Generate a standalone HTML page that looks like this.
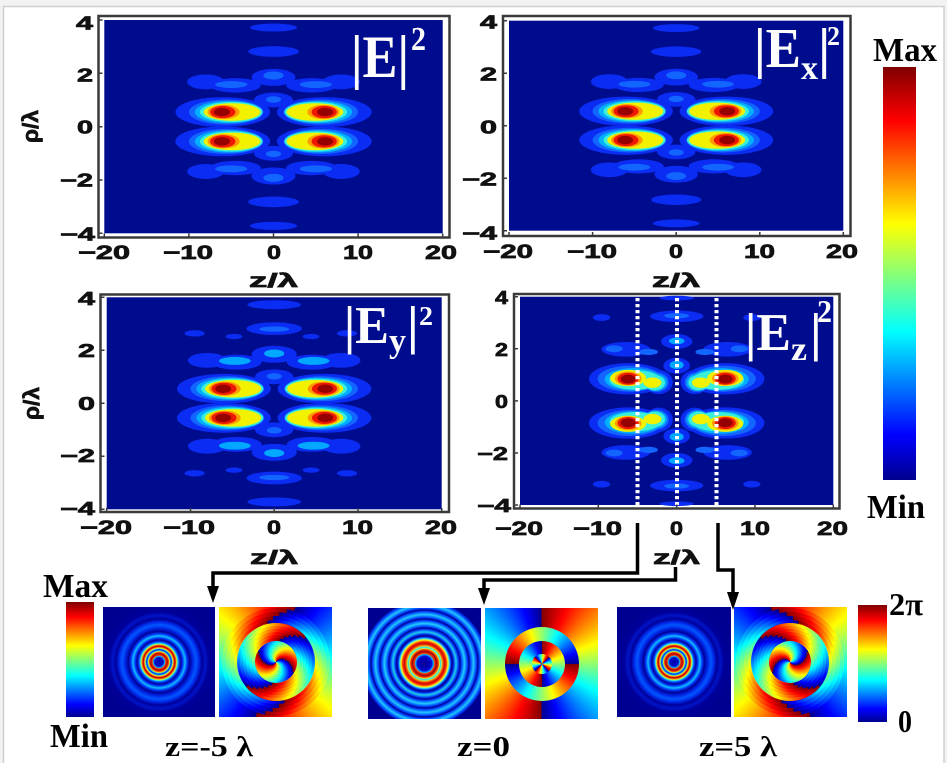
<!DOCTYPE html>
<html><head><meta charset="utf-8">
<style>
html,body{margin:0;padding:0;background:#f2f2f2;}
#w{position:relative;width:947px;height:763px;overflow:hidden;background:#f2f2f2;}
svg{position:absolute;left:0;top:0;}
.pi{position:absolute;overflow:hidden;}
.c{position:absolute;border-radius:50%;left:50%;top:50%;transform:translate(-50%,-50%);}
.f{position:absolute;left:0;top:0;width:100%;height:100%;}
.s2{background:repeating-conic-gradient(from var(--a),#00008f 0deg,#0000ff 18deg,#00ffff 63deg,#ffff00 110deg,#ff0000 155deg,#800000 180deg);}
.s2r{background:repeating-conic-gradient(from var(--a),#800000 0deg,#ff0000 25deg,#ffff00 70deg,#00ffff 117deg,#0000ff 162deg,#00008f 180deg);}
.s4{background:repeating-conic-gradient(from var(--a),#00008f 0deg,#0000ff 9deg,#00ffff 32deg,#ffff00 55deg,#ff0000 78deg,#800000 90deg);}
.jet{background:linear-gradient(to top,#00008f 0%,#0000ff 11%,#00ffff 36%,#ffff00 62%,#ff0000 87%,#800000 100%);}
.i1{background:radial-gradient(circle at 50% 50%,#0000a8 0px,#0010d0 4.5px,#00c0ff 5.7px,#ff4000 6.7px,#a80000 8.2px,#ff4000 9.6px,#e8f000 10.4px,#20c8ff 11.2px,#0018d8 12.2px,#20c8ff 13.2px,#f0f000 14px,#ff3000 15px,#b00000 15.8px,#ff5000 16.8px,#c0ff40 17.8px,#10d0ff 18.8px,#0048ff 20px,#0000a0 22px,#0040ff 24px,#10c0ff 26px,#0040ff 28px,#00009a 30.5px,#0028e8 34px,#0058ff 37px,#0028e8 40px,#00009a 43px,#0014c8 46.5px,#00009a 50px,#000090 60px);}
.i2{background:radial-gradient(circle at 50% 50%,#000090 0px,#0000b8 5px,#0010e0 7.5px,#00c0ff 9px,#ff4000 10px,#a00000 12px,#ff4000 14px,#e0ff20 15px,#20d0ff 16px,#a0ff60 17px,#ff8000 18px,#d00000 20px,#ff4000 22px,#ffff20 23.5px,#20d0ff 25px,#0020e0 26.5px,#000090 28px,#0040ff 29.5px,#20d0e8 31.5px,#0040ff 34px,#000090 35.5px,#0040ff 37px,#20d0ff 40px,#0040ff 43px,#000090 44.5px,#0040ff 46px,#20c8ff 49px,#0040ff 52px,#000090 53.5px,#0040ff 55px,#20c8ff 58px,#0040ff 61px,#000090 63px);}
.t{font-family:"Liberation Sans",Arial,sans-serif;font-weight:bold;font-size:19px;fill:#111;stroke:#111;stroke-width:0.7px;}
.y{font-size:18px;}
.s{font-family:"Liberation Serif","Times New Roman",serif;font-weight:bold;}
.wt{fill:#fdfdfd;}
</style></head><body><div id="w">
<svg width="947" height="763" xmlns="http://www.w3.org/2000/svg">
<defs>
<linearGradient id="jetg" x1="0" y1="1" x2="0" y2="0">
<stop offset="0" stop-color="#00008f"/><stop offset="0.11" stop-color="#0000ff"/><stop offset="0.36" stop-color="#00ffff"/><stop offset="0.62" stop-color="#ffff00"/><stop offset="0.87" stop-color="#ff0000"/><stop offset="1" stop-color="#800000"/>
</linearGradient>
<g id="lobeE">
<ellipse cx="-6" cy="-0.55" rx="5.6" ry="0.56" fill="#0b2cf2"/>
<ellipse cx="-5.6" cy="-0.55" rx="4.4" ry="0.47" fill="#1266ff"/>
<ellipse cx="-5.3" cy="-0.55" rx="4.0" ry="0.42" fill="#00b0ff"/>
<ellipse cx="-5.0" cy="-0.55" rx="3.7" ry="0.38" fill="#3cf0d8"/>
<ellipse cx="-4.9" cy="-0.55" rx="3.35" ry="0.33" fill="#f2f200"/>
<ellipse cx="-5.9" cy="-0.55" rx="1.9" ry="0.27" fill="#ff9a00"/>
<ellipse cx="-6.0" cy="-0.55" rx="1.5" ry="0.23" fill="#ee1800"/>
<ellipse cx="-6.1" cy="-0.55" rx="0.95" ry="0.16" fill="#960000"/>
</g>
<g id="halfE">
<ellipse cx="-8" cy="-1.68" rx="2.2" ry="0.28" fill="#0b2cf2"/>
<ellipse cx="-4.5" cy="-1.55" rx="3.0" ry="0.27" fill="#0b2cf2"/>
<ellipse cx="0" cy="-1.85" rx="2.6" ry="0.32" fill="#0b2cf2"/>
<ellipse cx="4.5" cy="-1.55" rx="3.0" ry="0.27" fill="#0b2cf2"/>
<ellipse cx="8" cy="-1.68" rx="2.2" ry="0.28" fill="#0b2cf2"/>
<ellipse cx="-5" cy="-1.58" rx="1.9" ry="0.13" fill="#1266ff"/>
<ellipse cx="0" cy="-1.92" rx="1.2" ry="0.15" fill="#1266ff"/>
<ellipse cx="5" cy="-1.58" rx="1.9" ry="0.13" fill="#1266ff"/>
<ellipse cx="0" cy="-2.82" rx="3.0" ry="0.2" fill="#0b2cf2"/>
<ellipse cx="0" cy="-3.72" rx="2.8" ry="0.15" fill="#0b2cf2"/>
<ellipse cx="0" cy="-1.0" rx="2.3" ry="0.28" fill="#0b2cf2"/>
<ellipse cx="0" cy="-1.02" rx="0.9" ry="0.12" fill="#1266ff"/>
<use href="#lobeE"/>
<use href="#lobeE" transform="scale(-1,1)"/>
</g>
<g id="fieldE"><use href="#halfE"/><use href="#halfE" transform="scale(1,-1)"/></g>
<g id="halfY">
<ellipse cx="-8" cy="-1.62" rx="2.3" ry="0.28" fill="#0b2cf2"/>
<ellipse cx="-4.5" cy="-1.55" rx="3.0" ry="0.28" fill="#0b2cf2"/>
<ellipse cx="0" cy="-1.85" rx="2.7" ry="0.32" fill="#0b2cf2"/>
<ellipse cx="4.5" cy="-1.55" rx="3.0" ry="0.28" fill="#0b2cf2"/>
<ellipse cx="8" cy="-1.62" rx="2.3" ry="0.28" fill="#0b2cf2"/>
<ellipse cx="-4.7" cy="-1.6" rx="1.9" ry="0.15" fill="#00a8ff"/>
<ellipse cx="0" cy="-1.88" rx="1.2" ry="0.15" fill="#00a8ff"/>
<ellipse cx="4.7" cy="-1.6" rx="1.9" ry="0.15" fill="#00a8ff"/>
<ellipse cx="-9.5" cy="-2.64" rx="1.2" ry="0.12" fill="#0b2cf2"/>
<ellipse cx="-4.8" cy="-2.52" rx="1.0" ry="0.1" fill="#0b2cf2"/>
<ellipse cx="4.4" cy="-2.52" rx="1.0" ry="0.1" fill="#0b2cf2"/>
<ellipse cx="8.7" cy="-2.64" rx="1.2" ry="0.12" fill="#0b2cf2"/>
<ellipse cx="0" cy="-2.82" rx="3.3" ry="0.24" fill="#0b2cf2"/>
<ellipse cx="0" cy="-2.8" rx="1.8" ry="0.1" fill="#1266ff"/>
<ellipse cx="0" cy="-3.72" rx="3.2" ry="0.17" fill="#0b2cf2"/>
<ellipse cx="0" cy="-1.0" rx="2.3" ry="0.28" fill="#0b2cf2"/>
<ellipse cx="0" cy="-1.02" rx="0.9" ry="0.12" fill="#1266ff"/>
<use href="#lobeE"/>
<use href="#lobeE" transform="scale(-1,1)"/>
</g>
<g id="fieldY"><use href="#halfY"/><use href="#halfY" transform="scale(1,-1)"/></g>
<g id="lobeZ">
<ellipse cx="-6.2" cy="-0.85" rx="5.0" ry="0.6" fill="#0b2cf2"/>
<ellipse cx="-2.3" cy="-0.72" rx="1.8" ry="0.46" fill="#0b2cf2"/>
<ellipse cx="-6.0" cy="-0.85" rx="4.1" ry="0.5" fill="#1266ff"/>
<ellipse cx="-2.6" cy="-0.72" rx="1.6" ry="0.38" fill="#1266ff"/>
<ellipse cx="-5.6" cy="-0.83" rx="3.6" ry="0.43" fill="#00b0ff"/>
<ellipse cx="-2.7" cy="-0.71" rx="1.45" ry="0.33" fill="#00b0ff"/>
<ellipse cx="-5.3" cy="-0.8" rx="3.3" ry="0.37" fill="#3cf0d8"/>
<ellipse cx="-2.8" cy="-0.7" rx="1.3" ry="0.29" fill="#3cf0d8"/>
<ellipse cx="-6.2" cy="-0.88" rx="2.3" ry="0.31" fill="#f2f200"/>
<ellipse cx="-3.1" cy="-0.7" rx="1.15" ry="0.2" fill="#f2f200"/>
<ellipse cx="-6.2" cy="-0.86" rx="1.7" ry="0.27" fill="#ff9a00"/>
<ellipse cx="-6.2" cy="-0.85" rx="1.35" ry="0.23" fill="#ee1800"/>
<ellipse cx="-6.2" cy="-0.84" rx="0.95" ry="0.17" fill="#960000"/>
</g>
<g id="halfZ">
<ellipse cx="-6.5" cy="-1.98" rx="3.1" ry="0.28" fill="#0b2cf2"/>
<ellipse cx="6.5" cy="-1.98" rx="3.1" ry="0.28" fill="#0b2cf2"/>
<ellipse cx="-8.0" cy="-2.0" rx="1.1" ry="0.13" fill="#1266ff"/>
<ellipse cx="8.0" cy="-2.0" rx="1.1" ry="0.13" fill="#1266ff"/>
<ellipse cx="-3.6" cy="-1.88" rx="1.2" ry="0.12" fill="#1266ff"/>
<ellipse cx="3.6" cy="-1.88" rx="1.2" ry="0.12" fill="#1266ff"/>
<ellipse cx="0" cy="-2.28" rx="2.0" ry="0.28" fill="#0b2cf2"/>
<ellipse cx="0" cy="-2.3" rx="1.0" ry="0.13" fill="#00a8ff"/>
<ellipse cx="0" cy="-3.25" rx="3.4" ry="0.22" fill="#0b2cf2"/>
<ellipse cx="0" cy="-3.27" rx="1.6" ry="0.1" fill="#1266ff"/>
<ellipse cx="0" cy="-3.95" rx="2.2" ry="0.09" fill="#0b2cf2"/>
<ellipse cx="-9.6" cy="-3.2" rx="1.1" ry="0.13" fill="#0b2cf2"/>
<ellipse cx="9.6" cy="-3.2" rx="1.1" ry="0.13" fill="#0b2cf2"/>
<use href="#lobeZ"/>
<use href="#lobeZ" transform="scale(-1,1)"/>
<ellipse cx="0" cy="-1.35" rx="1.7" ry="0.3" fill="#0b2cf2"/>
<ellipse cx="0" cy="-1.38" rx="0.9" ry="0.16" fill="#00a8ff"/>
</g>
<g id="fieldZ"><use href="#halfZ"/><use href="#halfZ" transform="scale(1,-1)"/></g>
</defs>

<rect x="3.5" y="6.5" width="940.5" height="770" fill="#fff" stroke="#cfcfcf" stroke-width="1.5"/>

<!-- Top-left |E|^2 -->
<rect x="98.5" y="16" width="351" height="221.5" fill="#fff" stroke="#3a3a3a" stroke-width="2.5"/>
<rect x="104.3" y="20" width="338.4" height="213.3" fill="#000c8e"/>
<g transform="translate(273.5,126.7) scale(8.46,26.66)"><use href="#fieldE"/></g>
<path d="M104.3 237.5v-4M188.9 237.5v-4M273.5 237.5v-4M358.1 237.5v-4M442.7 237.5v-4M98.5 20h4M98.5 73.3h4M98.5 126.7h4M98.5 180h4M98.5 233.3h4" stroke="#3a3a3a" stroke-width="1.5"/>

<!-- Top-right |Ex|^2 -->
<rect x="503" y="16" width="347.5" height="220" fill="#fff" stroke="#3a3a3a" stroke-width="2.5"/>
<rect x="509" y="20.7" width="334.3" height="210" fill="#000c8e"/>
<g transform="translate(676.2,125.7) scale(8.36,26.25)"><use href="#fieldE"/></g>
<path d="M509 236v-4M592.6 236v-4M676.2 236v-4M759.8 236v-4M843.3 236v-4M503 20.7h4M503 73.2h4M503 125.7h4M503 178.2h4M503 230.7h4" stroke="#3a3a3a" stroke-width="1.5"/>

<!-- Bottom-left |Ey|^2 -->
<rect x="100.5" y="294.5" width="348.5" height="217.5" fill="#fff" stroke="#3a3a3a" stroke-width="2.5"/>
<rect x="106.7" y="297.3" width="335" height="212" fill="#000c8e"/>
<g transform="translate(274.2,403.3) scale(8.375,26.5)"><use href="#fieldY"/></g>
<path d="M106.7 512v-4M190.5 512v-4M274.2 512v-4M358 512v-4M441.7 512v-4M100.5 297.3h4M100.5 350.3h4M100.5 403.3h4M100.5 456.3h4M100.5 509.3h4" stroke="#3a3a3a" stroke-width="1.5"/>

<!-- Bottom-right |Ez|^2 -->
<rect x="514" y="294" width="325.5" height="214.5" fill="#fff" stroke="#3a3a3a" stroke-width="2.5"/>
<rect x="520" y="296.7" width="313.3" height="208.3" fill="#000c8e"/>
<g transform="translate(676.7,400.9) scale(7.83,26.04)"><use href="#fieldZ"/></g>
<g stroke="#fff" stroke-width="4" stroke-dasharray="3.3 2.7">
<line x1="637.5" y1="298" x2="637.5" y2="505"/>
<line x1="677" y1="298" x2="677" y2="505"/>
<line x1="716.5" y1="298" x2="716.5" y2="505"/>
</g>
<path d="M520 508.5v-4M598.3 508.5v-4M676.7 508.5v-4M755 508.5v-4M833.3 508.5v-4M514 296.7h4M514 348.8h4M514 400.9h4M514 453h4M514 505h4" stroke="#3a3a3a" stroke-width="1.5"/>

<!-- Big colorbar -->
<rect x="883" y="67" width="33" height="413" fill="url(#jetg)"/>
<text class="s" x="873" y="61" font-size="34" textLength="64" lengthAdjust="spacingAndGlyphs">Max</text>
<text class="s" x="867" y="518" font-size="34" textLength="58" lengthAdjust="spacingAndGlyphs">Min</text>

<!-- Panel titles -->
<text class="s wt" x="351" y="77" font-size="60" textLength="58" lengthAdjust="spacingAndGlyphs">|E|</text>
<text class="s wt" x="411" y="50" font-size="34" textLength="15" lengthAdjust="spacingAndGlyphs">2</text>

<text class="s wt" x="754" y="67" font-size="56" textLength="47" lengthAdjust="spacingAndGlyphs">|E</text>
<text class="s wt" x="801" y="79" font-size="34" textLength="17" lengthAdjust="spacingAndGlyphs">x</text>
<text class="s wt" x="818" y="67" font-size="56">|</text>
<text class="s wt" x="827" y="45" font-size="27" textLength="13" lengthAdjust="spacingAndGlyphs">2</text>

<text class="s wt" x="344" y="343" font-size="53" textLength="45" lengthAdjust="spacingAndGlyphs">|E</text>
<text class="s wt" x="389" y="352" font-size="34" textLength="17" lengthAdjust="spacingAndGlyphs">y</text>
<text class="s wt" x="407" y="343" font-size="53">|</text>
<text class="s wt" x="419" y="325" font-size="27" textLength="14" lengthAdjust="spacingAndGlyphs">2</text>

<text class="s wt" x="745" y="350" font-size="53" textLength="46" lengthAdjust="spacingAndGlyphs">|E</text>
<text class="s wt" x="791" y="360" font-size="34" textLength="16" lengthAdjust="spacingAndGlyphs">z</text>
<text class="s wt" x="810" y="350" font-size="53">|</text>
<text class="s wt" x="817" y="322" font-size="32" textLength="15" lengthAdjust="spacingAndGlyphs">2</text>

<g class="t">
<!-- TL -->
<text x="78" y="259" textLength="52" lengthAdjust="spacingAndGlyphs">−20</text>
<text x="163" y="259" textLength="50" lengthAdjust="spacingAndGlyphs">−10</text>
<text x="267" y="259" textLength="14" lengthAdjust="spacingAndGlyphs">0</text>
<text x="343" y="259" textLength="30" lengthAdjust="spacingAndGlyphs">10</text>
<text x="425" y="259" textLength="32" lengthAdjust="spacingAndGlyphs">20</text>
<text class="y" x="76" y="29.5" textLength="17" lengthAdjust="spacingAndGlyphs">4</text>
<text class="y" x="77" y="81.5" textLength="16" lengthAdjust="spacingAndGlyphs">2</text>
<text class="y" x="77" y="133.5" textLength="16" lengthAdjust="spacingAndGlyphs">0</text>
<text class="y" x="60" y="186.5" textLength="33" lengthAdjust="spacingAndGlyphs">−2</text>
<text class="y" x="60" y="240.5" textLength="35" lengthAdjust="spacingAndGlyphs">−4</text>
<text x="249" y="287" textLength="49" lengthAdjust="spacingAndGlyphs">z/λ</text>
<text transform="translate(38,143) rotate(-90)" x="0" y="0" font-size="22" textLength="33" lengthAdjust="spacingAndGlyphs">ρ/λ</text>

<!-- TR -->
<text x="483" y="258" textLength="50" lengthAdjust="spacingAndGlyphs">−20</text>
<text x="567" y="258" textLength="50" lengthAdjust="spacingAndGlyphs">−10</text>
<text x="669" y="258" textLength="14" lengthAdjust="spacingAndGlyphs">0</text>
<text x="744" y="258" textLength="31" lengthAdjust="spacingAndGlyphs">10</text>
<text x="826" y="258" textLength="32" lengthAdjust="spacingAndGlyphs">20</text>
<text class="y" x="480" y="28.5" textLength="17" lengthAdjust="spacingAndGlyphs">4</text>
<text class="y" x="480" y="80.5" textLength="17" lengthAdjust="spacingAndGlyphs">2</text>
<text class="y" x="480" y="133.5" textLength="17" lengthAdjust="spacingAndGlyphs">0</text>
<text class="y" x="462" y="185.5" textLength="35" lengthAdjust="spacingAndGlyphs">−2</text>
<text class="y" x="462" y="239.5" textLength="35" lengthAdjust="spacingAndGlyphs">−4</text>
<text x="652" y="287" textLength="48" lengthAdjust="spacingAndGlyphs">z/λ</text>

<!-- BL -->
<text x="80" y="534" textLength="52" lengthAdjust="spacingAndGlyphs">−20</text>
<text x="163" y="534" textLength="52" lengthAdjust="spacingAndGlyphs">−10</text>
<text x="267" y="534" textLength="14" lengthAdjust="spacingAndGlyphs">0</text>
<text x="342" y="534" textLength="31" lengthAdjust="spacingAndGlyphs">10</text>
<text x="425" y="534" textLength="32" lengthAdjust="spacingAndGlyphs">20</text>
<text class="y" x="78" y="305" textLength="17" lengthAdjust="spacingAndGlyphs">4</text>
<text class="y" x="78" y="357" textLength="17" lengthAdjust="spacingAndGlyphs">2</text>
<text class="y" x="78" y="410" textLength="17" lengthAdjust="spacingAndGlyphs">0</text>
<text class="y" x="60" y="462" textLength="35" lengthAdjust="spacingAndGlyphs">−2</text>
<text class="y" x="60" y="515" textLength="35" lengthAdjust="spacingAndGlyphs">−4</text>
<text x="250" y="564" textLength="48" lengthAdjust="spacingAndGlyphs">z/λ</text>
<text transform="translate(39,420) rotate(-90)" x="0" y="0" font-size="22" textLength="33" lengthAdjust="spacingAndGlyphs">ρ/λ</text>

<!-- BR -->
<text x="495" y="535" textLength="48" lengthAdjust="spacingAndGlyphs">−20</text>
<text x="573" y="535" textLength="49" lengthAdjust="spacingAndGlyphs">−10</text>
<text x="670" y="535" textLength="13" lengthAdjust="spacingAndGlyphs">0</text>
<text x="740" y="535" textLength="30" lengthAdjust="spacingAndGlyphs">10</text>
<text x="817" y="535" textLength="31" lengthAdjust="spacingAndGlyphs">20</text>
<text class="y" x="495" y="304" textLength="13" lengthAdjust="spacingAndGlyphs">4</text>
<text class="y" x="495" y="356" textLength="13" lengthAdjust="spacingAndGlyphs">2</text>
<text class="y" x="495" y="408" textLength="13" lengthAdjust="spacingAndGlyphs">0</text>
<text class="y" x="477" y="460" textLength="31" lengthAdjust="spacingAndGlyphs">−2</text>
<text class="y" x="477" y="512" textLength="34" lengthAdjust="spacingAndGlyphs">−4</text>
<text x="653" y="564" textLength="47" lengthAdjust="spacingAndGlyphs">z/λ</text>
</g>

<!-- Bottom labels -->
<text class="s" x="43" y="597" font-size="34" textLength="65" lengthAdjust="spacingAndGlyphs">Max</text>
<text class="s" x="50" y="747" font-size="34" textLength="58" lengthAdjust="spacingAndGlyphs">Min</text>
<text class="s" x="889" y="615" font-size="32" textLength="34" lengthAdjust="spacingAndGlyphs">2π</text>
<text class="s" x="898" y="732" font-size="32" textLength="14" lengthAdjust="spacingAndGlyphs">0</text>
<text class="s" x="165" y="756" font-size="28" textLength="88" lengthAdjust="spacingAndGlyphs">z=-5 λ</text>
<text class="s" x="457" y="756" font-size="28" textLength="53" lengthAdjust="spacingAndGlyphs">z=0</text>
<text class="s" x="699" y="756" font-size="28" textLength="78" lengthAdjust="spacingAndGlyphs">z=5 λ</text>
</svg>

<!-- Bottom colorbars -->
<div class="pi jet" style="left:66px;top:602px;width:28px;height:115px"></div>
<div class="pi jet" style="left:858px;top:605px;width:29px;height:117px"></div>

<!-- Intensity images -->
<div class="pi i1" style="left:103px;top:607px;width:112px;height:110px"></div>
<div class="pi i2" style="left:368px;top:608px;width:113px;height:111px"></div>
<div class="pi i1" style="left:617px;top:607px;width:114px;height:110px"></div>

<!-- Phase z=-5 -->
<div class="pi" style="left:219px;top:607px;width:113px;height:110px">
<div class="f s2" style="--a:200deg"></div>
<div class="c s2" style="--a:192deg;width:108px;height:108px"></div>
<div class="c s2" style="--a:184deg;width:100px;height:100px"></div>
<div class="c s2" style="--a:176deg;width:92px;height:92px"></div>
<div class="c s2" style="--a:168deg;width:84px;height:84px"></div>
<div class="c s2" style="--a:50deg;width:78px;height:78px"></div>
<div class="c s2" style="--a:42deg;width:72px;height:72px"></div>
<div class="c s2" style="--a:34deg;width:66px;height:66px"></div>
<div class="c s2" style="--a:26deg;width:60px;height:60px"></div>
<div class="c s2" style="--a:18deg;width:54px;height:54px"></div>
<div class="c s2" style="--a:10deg;width:48px;height:48px"></div>
<div class="c s2" style="--a:120deg;width:42px;height:42px"></div>
<div class="c s2" style="--a:112deg;width:38px;height:38px"></div>
<div class="c s2" style="--a:104deg;width:34px;height:34px"></div>
<div class="c s2" style="--a:96deg;width:30px;height:30px"></div>
<div class="c s2" style="--a:88deg;width:26px;height:26px"></div>
<div class="c s2" style="--a:80deg;width:22px;height:22px"></div>
<div class="c s2" style="--a:70deg;width:18px;height:18px"></div>
<div class="c s2" style="--a:60deg;width:14px;height:14px"></div>
<div class="c s2" style="--a:50deg;width:10px;height:10px"></div>
<div class="c s2" style="--a:40deg;width:6px;height:6px"></div>
</div>

<!-- Phase z=0 -->
<div class="pi" style="left:485px;top:608px;width:113px;height:111px">
<div class="f s2r" style="--a:0deg"></div>
<div class="c s2r" style="--a:90deg;width:74px;height:74px"></div>
<div class="c s2r" style="--a:0deg;width:46px;height:46px"></div>
<div class="c s4" style="--a:45deg;width:20px;height:20px"></div>
</div>

<!-- Phase z=5 (mirrored) -->
<div class="pi" style="left:734px;top:607px;width:113px;height:110px;transform:scaleX(-1)">
<div class="f s2" style="--a:200deg"></div>
<div class="c s2" style="--a:192deg;width:108px;height:108px"></div>
<div class="c s2" style="--a:184deg;width:100px;height:100px"></div>
<div class="c s2" style="--a:176deg;width:92px;height:92px"></div>
<div class="c s2" style="--a:168deg;width:84px;height:84px"></div>
<div class="c s2" style="--a:50deg;width:78px;height:78px"></div>
<div class="c s2" style="--a:42deg;width:72px;height:72px"></div>
<div class="c s2" style="--a:34deg;width:66px;height:66px"></div>
<div class="c s2" style="--a:26deg;width:60px;height:60px"></div>
<div class="c s2" style="--a:18deg;width:54px;height:54px"></div>
<div class="c s2" style="--a:10deg;width:48px;height:48px"></div>
<div class="c s2" style="--a:120deg;width:42px;height:42px"></div>
<div class="c s2" style="--a:112deg;width:38px;height:38px"></div>
<div class="c s2" style="--a:104deg;width:34px;height:34px"></div>
<div class="c s2" style="--a:96deg;width:30px;height:30px"></div>
<div class="c s2" style="--a:88deg;width:26px;height:26px"></div>
<div class="c s2" style="--a:80deg;width:22px;height:22px"></div>
<div class="c s2" style="--a:70deg;width:18px;height:18px"></div>
<div class="c s2" style="--a:60deg;width:14px;height:14px"></div>
<div class="c s2" style="--a:50deg;width:10px;height:10px"></div>
<div class="c s2" style="--a:40deg;width:6px;height:6px"></div>
</div>

<!-- Arrows -->
<svg width="947" height="763" xmlns="http://www.w3.org/2000/svg">
<g fill="none" stroke="#000" stroke-width="3.5" stroke-linejoin="miter">
<path d="M637.5 523V573H213V590"/>
<path d="M675.5 567V580H484V591"/>
<path d="M718 523V570H733V593"/>
</g>
<g fill="#000">
<polygon points="207,586 219,586 213,603"/>
<polygon points="478,588 490,588 484,605"/>
<polygon points="727,592 739,592 733,610"/>
</g>
</svg>
</div></body></html>
